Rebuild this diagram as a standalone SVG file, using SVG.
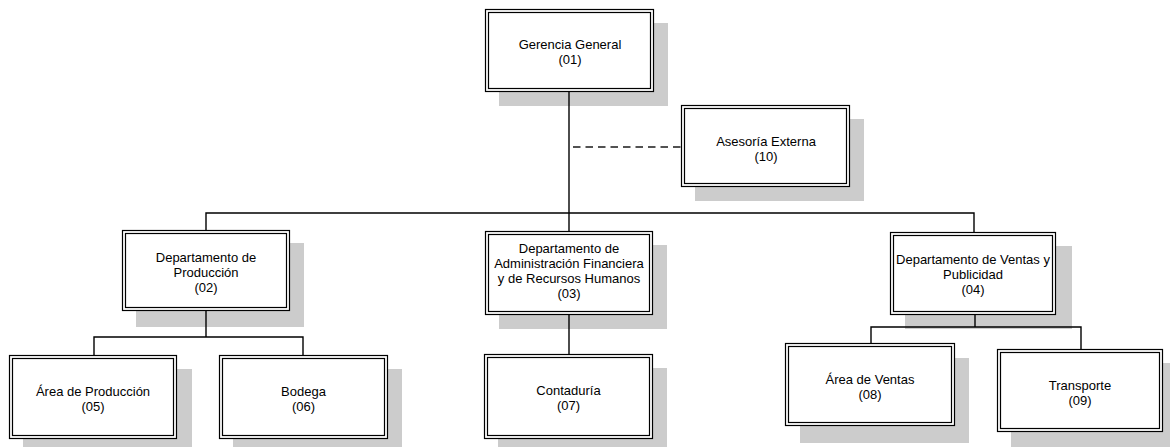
<svg xmlns="http://www.w3.org/2000/svg" width="1170" height="447" viewBox="0 0 1170 447">
  <style>
    .shadow { fill: #cccccc; }
    .frame { fill: #ffffff; stroke: #000000; stroke-width: 1.2; }
    .inner { fill: none; stroke: #000000; stroke-width: 1.2; }
    .label { font-family: "Liberation Sans", Arial, sans-serif; font-size: 13px; fill: #000000; text-anchor: middle; }
    .line { fill: none; stroke: #000000; stroke-width: 1.4; }
    .dash { fill: none; stroke: #1a1a1a; stroke-width: 1.3; stroke-dasharray: 7.5 5; }
  </style>
  <rect width="1170" height="447" fill="#ffffff"/>

  <!-- shadows behind every box -->
  <g id="shadows">
    <rect class="shadow" x="499" y="23" width="169" height="83"/>
    <rect class="shadow" x="695" y="119" width="169" height="82"/>
    <rect class="shadow" x="136" y="243" width="168" height="84"/>
    <rect class="shadow" x="499" y="245" width="168" height="84"/>
    <rect class="shadow" x="905" y="246" width="167" height="83"/>
    <rect class="shadow" x="23" y="369" width="169" height="84"/>
    <rect class="shadow" x="233" y="369" width="169" height="84"/>
    <rect class="shadow" x="498" y="368" width="169" height="85"/>
    <rect class="shadow" x="800" y="358" width="169" height="85"/>
    <rect class="shadow" x="1011" y="363" width="166" height="84"/>
  </g>

  <!-- connectors -->
  <g id="connectors">
    <line class="line" x1="569" y1="92" x2="569" y2="231"/>
    <line class="dash" x1="573" y1="147" x2="681" y2="147"/>
    <polyline class="line" points="206,230 206,213 974,213 974,232"/>
    <polyline class="line" points="206,311 206,337"/>
    <polyline class="line" points="94,355 94,337 303,337 303,355"/>
    <line class="line" x1="569" y1="315" x2="569" y2="354"/>
    <line class="line" x1="975" y1="315" x2="975" y2="327"/>
    <polyline class="line" points="871,343 871,327 1081,327 1081,349"/>
  </g>

  <g id="n01">
    <rect class="frame" x="485.5" y="9.5" width="168" height="82"/>
    <rect class="inner" x="488.5" y="12.5" width="162" height="76"/>
    <text class="label" x="570" y="49">Gerencia General</text>
    <text class="label" x="570" y="64">(01)</text>
  </g>

  <g id="n10">
    <rect class="frame" x="681.5" y="105.5" width="168" height="81"/>
    <rect class="inner" x="684.5" y="108.5" width="162" height="75"/>
    <text class="label" x="766" y="146">Asesoría Externa</text>
    <text class="label" x="766" y="161">(10)</text>
  </g>

  <g id="n02">
    <rect class="frame" x="122.5" y="230.5" width="167" height="80"/>
    <rect class="inner" x="125.5" y="233.5" width="161" height="74"/>
    <text class="label" x="206" y="262">Departamento de</text>
    <text class="label" x="206" y="277">Producción</text>
    <text class="label" x="206" y="292">(02)</text>
  </g>

  <g id="n03">
    <rect class="frame" x="485.5" y="231.5" width="167" height="83"/>
    <rect class="inner" x="488.5" y="234.5" width="161" height="77"/>
    <text class="label" x="569" y="253">Departamento de</text>
    <text class="label" x="569" y="268">Administración Financiera</text>
    <text class="label" x="569" y="283">y de Recursos Humanos</text>
    <text class="label" x="569" y="298">(03)</text>
  </g>

  <g id="n04">
    <rect class="frame" x="890.5" y="232.5" width="165" height="82"/>
    <rect class="inner" x="893.5" y="235.5" width="159" height="76"/>
    <text class="label" x="973" y="264">Departamento de Ventas y</text>
    <text class="label" x="973" y="279">Publicidad</text>
    <text class="label" x="973" y="294">(04)</text>
  </g>

  <g id="n05">
    <rect class="frame" x="9.5" y="355.5" width="167" height="83"/>
    <rect class="inner" x="12.5" y="358.5" width="161" height="77"/>
    <text class="label" x="93" y="396">Área de Producción</text>
    <text class="label" x="93" y="411">(05)</text>
  </g>

  <g id="n06">
    <rect class="frame" x="219.5" y="355.5" width="168" height="83"/>
    <rect class="inner" x="222.5" y="358.5" width="162" height="77"/>
    <text class="label" x="303.5" y="396">Bodega</text>
    <text class="label" x="303.5" y="411">(06)</text>
  </g>

  <g id="n07">
    <rect class="frame" x="484.5" y="354.5" width="168" height="84"/>
    <rect class="inner" x="487.5" y="357.5" width="162" height="78"/>
    <text class="label" x="568.5" y="395">Contaduría</text>
    <text class="label" x="568.5" y="410">(07)</text>
  </g>

  <g id="n08">
    <rect class="frame" x="785.5" y="343.5" width="169" height="82"/>
    <rect class="inner" x="788.5" y="346.5" width="163" height="76"/>
    <text class="label" x="870" y="384">Área de Ventas</text>
    <text class="label" x="870" y="399">(08)</text>
  </g>

  <g id="n09">
    <rect class="frame" x="997.5" y="349.5" width="165" height="82"/>
    <rect class="inner" x="1000.5" y="352.5" width="159" height="76"/>
    <text class="label" x="1080" y="390">Transporte</text>
    <text class="label" x="1080" y="405">(09)</text>
  </g>
</svg>
